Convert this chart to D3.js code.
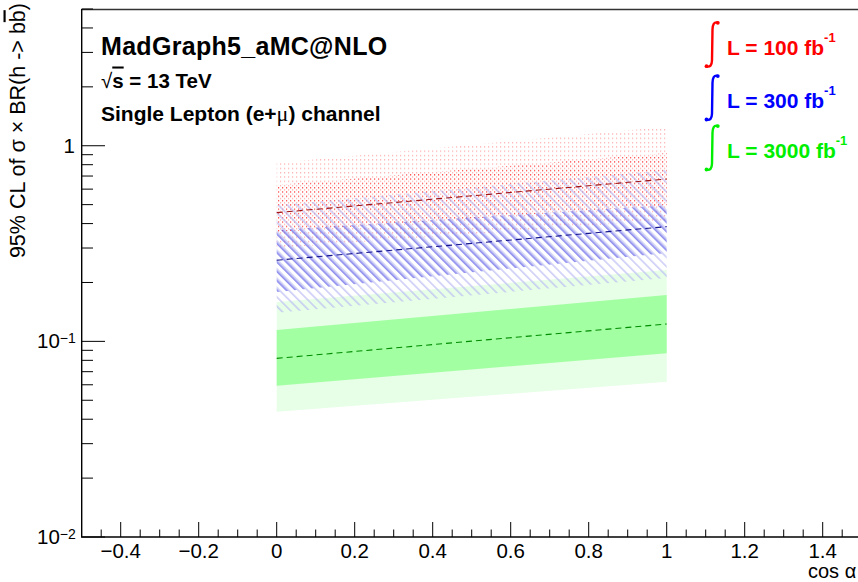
<!DOCTYPE html>
<html><head><meta charset="utf-8">
<script src="https://cdn.jsdelivr.net/npm/d3@7/dist/d3.min.js"></script>
<style>body{margin:0;background:#fff} svg{display:block}</style>
</head><body>
<svg id="c" width="858" height="582"></svg>
<script>
// ---------------- data ----------------
const cosAlpha = [0, 1];
// 100 fb^-1
const red_median = [0.455, 0.676];
const red_up1 = [0.630, 0.918];
const red_lo1 = [0.362, 0.497];
const red_up2 = [0.816, 1.251];
const red_lo2 = [0.300, 0.417];
// 300 fb^-1
const blue_median = [0.260, 0.386];
const blue_up1 = [0.371, 0.497];
const blue_lo1 = [0.179, 0.283];
const blue_up2 = [0.497, 0.751];
const blue_lo2 = [0.140, 0.211];
// 3000 fb^-1
const green_median = [0.0819, 0.1227];
const green_up1 = [0.1143, 0.1725];
const green_lo1 = [0.0593, 0.0869];
const green_up2 = [0.159, 0.2315];
const green_lo2 = [0.0437, 0.0622];

const xTickValues = [-0.4, -0.2, 0, 0.2, 0.4, 0.6, 0.8, 1, 1.2, 1.4];
const yMajorValues = [0.01, 0.1, 1];
const yMajorLabels = [["10", "\u22122"], ["10", "\u22121"], ["1", ""]];
const legendLabels = ["L = 100 fb", "L = 300 fb", "L = 3000 fb"];
const legendColors = ["#ff0000", "#0000ff", "#00ee00"];

// ---------------- layout ----------------
const svg = d3.select("#c");
const x = d3.scaleLinear().domain([-0.5, 1.5]).range([81.7, 861.7]);
const y = d3.scaleLog().domain([0.01, 5]).range([537, 9]);
const FONT = "'Liberation Sans', Arial, Helvetica, sans-serif";

const defs = svg.append("defs");
// red dot patterns
function dotPattern(id, color, ox, oy) {
  const p = defs.append("pattern").attr("id", id).attr("patternUnits", "userSpaceOnUse")
    .attr("width", 4).attr("height", 4.3).attr("x", ox).attr("y", oy);
  p.append("rect").attr("x", 0).attr("y", 0).attr("width", 1.2).attr("height", 1.4).attr("fill", color);
}
dotPattern("redOuter", "#ffb4b4", 0, 0);
dotPattern("redInner", "#ff5050", 2, 2.1);
// blue hatch patterns
function hatchPattern(id, color, off) {
  const p = defs.append("pattern").attr("id", id).attr("patternUnits", "userSpaceOnUse")
    .attr("width", 20).attr("height", 6.6)
    .attr("patternTransform", `rotate(45) translate(0,${off})`);
  p.append("line").attr("x1", 0).attr("x2", 20).attr("y1", 1).attr("y2", 1)
    .attr("stroke", color).attr("stroke-width", 1.2);
}
hatchPattern("blueOuter", "#bcbcf4", 0);
hatchPattern("blueInner", "#6060e6", 1.7);

function band(lo, hi) {
  return d3.area()
    .x((d, i) => x(cosAlpha[i]))
    .y0((d, i) => y(lo[i]))
    .y1((d, i) => y(hi[i]))(cosAlpha);
}
function medLine(m) {
  return d3.line().x((d, i) => x(cosAlpha[i])).y((d, i) => y(m[i]))(cosAlpha);
}

const plot = svg.append("g");
// green (solid)
plot.append("path").attr("d", band(green_lo2, green_up2)).attr("fill", "#e6ffe6");
plot.append("path").attr("d", band(green_lo1, green_up1)).attr("fill", "#a2ffa2");
// red (dots)
plot.append("path").attr("d", band(red_lo2, red_up2)).attr("fill", "url(#redOuter)");
plot.append("path").attr("d", band(red_lo1, red_up1)).attr("fill", "url(#redInner)");
// blue (hatch)
plot.append("path").attr("d", band(blue_lo2, blue_up2)).attr("fill", "url(#blueOuter)");
plot.append("path").attr("d", band(blue_lo1, blue_up1)).attr("fill", "url(#blueInner)");
// medians
[[red_median, "#a01414"], [blue_median, "#14148c"], [green_median, "#008c00"]].forEach(([m, c]) => {
  plot.append("path").attr("d", medLine(m)).attr("fill", "none").attr("stroke", c)
    .attr("stroke-width", 1.1).attr("stroke-dasharray", "6,4");
});

// ---------------- axes ----------------
const ax = svg.append("g").attr("stroke", "#000");
// frame
ax.append("line").attr("x1", 81.7).attr("x2", 861.7).attr("y1", 9.5).attr("y2", 9.5).attr("stroke-width", 1.4).attr("stroke", "#333");
ax.append("line").attr("x1", 81.7).attr("x2", 81.7).attr("y1", 9).attr("y2", 537).attr("stroke-width", 1.4);
ax.append("line").attr("x1", 81).attr("x2", 861.7).attr("y1", 537).attr("y2", 537).attr("stroke-width", 1.4);

// x ticks
const xMinor = d3.range(-0.45, 1.5, 0.05).map(v => +v.toFixed(2));
xMinor.forEach(v => {
  const major = Math.abs(Math.round(v / 0.2) * 0.2 - v) < 1e-6;
  ax.append("line").attr("x1", x(v)).attr("x2", x(v)).attr("y1", 537).attr("y2", major ? 522 : 529.5).attr("stroke-width", 1);
});
svg.append("g").selectAll("text").data(xTickValues).join("text")
  .attr("x", d => x(d)).attr("y", 558).attr("text-anchor", "middle")
  .attr("font-family", FONT).attr("font-size", 20.5)
  .text(d => (d < 0 ? "\u2212" : "") + Math.abs(d).toString());

// y ticks
for (let e = -2; e <= 0; e++) {
  for (let k = 1; k <= 9; k++) {
    const v = k * Math.pow(10, e);
    if (v > 5.0001) continue;
    const yy = y(v);
    ax.append("line").attr("x1", 81.7).attr("x2", k === 1 ? 105 : 93).attr("y1", yy).attr("y2", yy).attr("stroke-width", 1);
  }
}
yMajorValues.forEach((v, i) => {
  const [base, sup] = yMajorLabels[i];
  const t = svg.append("text").attr("y", y(v) + 7).attr("font-family", FONT).attr("font-size", 20.5);
  if (sup) {
    t.attr("x", 37).attr("text-anchor", "start");
    t.append("tspan").text(base);
    t.append("tspan").attr("font-size", 14).attr("dy", -5).text(sup);
  } else {
    t.attr("x", 75).attr("text-anchor", "end").text(base);
  }
});

// axis titles
const yt = svg.append("text").attr("transform", "translate(24.5,3) rotate(-90)")
  .attr("text-anchor", "end").attr("font-family", FONT).attr("font-size", 21.5);
yt.append("tspan").text("95% CL of \u03c3 \u00d7 BR(h -> b");
yt.append("tspan").attr("text-decoration", "overline").text("b");
yt.append("tspan").text(")");

svg.append("text").attr("x", 808).attr("y", 578).attr("font-family", FONT).attr("font-size", 20)
  .text("cos \u03b1");

// ---------------- labels ----------------
svg.append("text").attr("x", 101).attr("y", 55).attr("font-family", FONT).attr("font-weight", "bold")
  .attr("font-size", 25).attr("letter-spacing", 0.3).text("MadGraph5_aMC@NLO");
const rs = svg.append("text").attr("x", 101).attr("y", 87.5).attr("font-family", FONT).attr("font-weight", "bold").attr("font-size", 20.5);
rs.append("tspan").attr("font-weight", "normal").text("\u221a");
rs.append("tspan").attr("text-decoration", "overline").text("s");
rs.append("tspan").text(" = 13 TeV");
const sl = svg.append("text").attr("x", 101).attr("y", 120.5).attr("font-family", FONT).attr("font-weight", "bold").attr("font-size", 21);
sl.append("tspan").text("Single Lepton (e+");
sl.append("tspan").attr("font-family", "'Liberation Serif', serif").attr("font-weight", "normal").attr("font-size", 22).text("\u03bc");
sl.append("tspan").text(") channel");

// legend
const legBase = [55, 108.3, 158.3];
legendLabels.forEach((lab, i) => {
  const b = legBase[i];
  const c = legendColors[i];
  const top = b - 32.5, bot = b + 11.5;
  svg.append("path")
    .attr("d", `M717.5,${top} C714,${top - 0.8} 712.6,${top + 2} 712.5,${top + 7} L712,${bot - 6} C711.8,${bot - 1} 710,${bot + 0.6} 706.8,${bot}`)
    .attr("fill", "none").attr("stroke", c).attr("stroke-width", 2.4).attr("stroke-linecap", "round");
  svg.append("circle").attr("cx", 717.8).attr("cy", top + 0.3).attr("r", 1.9).attr("fill", c);
  svg.append("circle").attr("cx", 706.5).attr("cy", bot - 0.3).attr("r", 1.9).attr("fill", c);
  const t = svg.append("text").attr("x", 727).attr("y", b).attr("font-family", FONT)
    .attr("font-weight", "bold").attr("font-size", 21).attr("fill", c);
  t.append("tspan").text(lab);
  t.append("tspan").attr("font-size", 13).attr("dy", -13).text("-1");
});
</script>
</body></html>
